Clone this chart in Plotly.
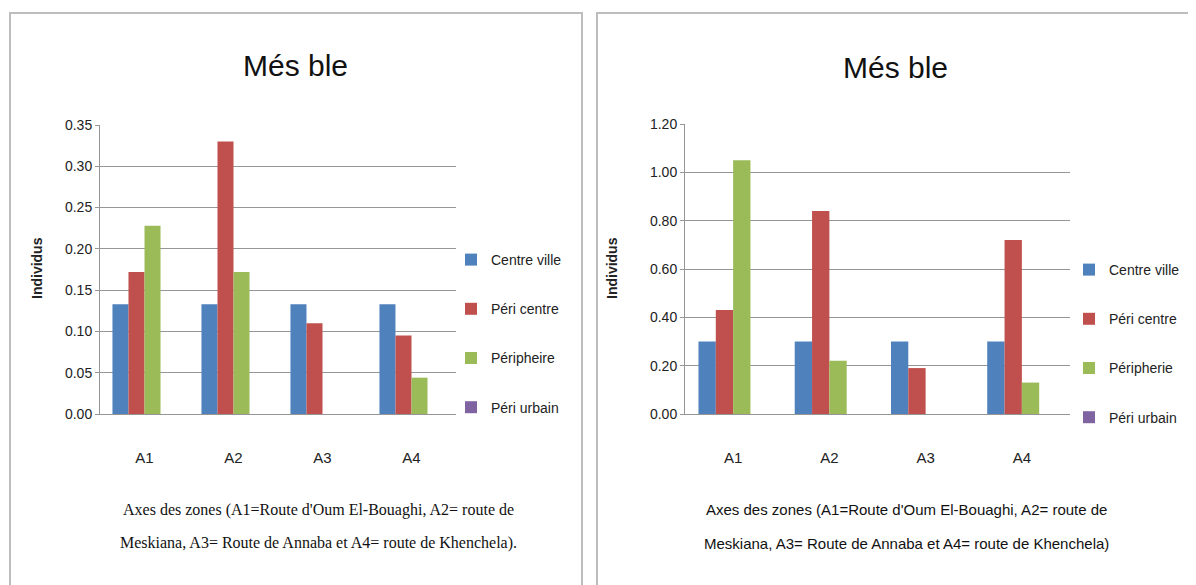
import plotly.graph_objects as go

categories = ["A1", "A2", "A3", "A4"]
series_names = ["Centre ville", "Péri centre", "Péripheire", "Péri urbain"]
series_names_right = ["Centre ville", "Péri centre", "Péripherie", "Péri urbain"]
colors = ["#4F81BD", "#C0504D", "#9BBB59", "#8064A2"]

left_centre_ville = [0.133, 0.133, 0.133, 0.133]
left_peri_centre = [0.172, 0.330, 0.110, 0.095]
left_peripherie = [0.228, 0.172, 0.0, 0.044]
left_peri_urbain = [0.0, 0.0, 0.0, 0.0]

right_centre_ville = [0.30, 0.30, 0.30, 0.30]
right_peri_centre = [0.43, 0.84, 0.19, 0.72]
right_peripherie = [1.05, 0.22, 0.0, 0.13]
right_peri_urbain = [0.0, 0.0, 0.0, 0.0]

left_series = [left_centre_ville, left_peri_centre, left_peripherie, left_peri_urbain]
right_series = [right_centre_ville, right_peri_centre, right_peripherie, right_peri_urbain]

title_text = "Més ble"
ytitle = "Individus"
xtitle_left_lines = ["Axes des zones (A1=Route d'Oum El-Bouaghi, A2= route de",
                     "Meskiana, A3= Route de Annaba et A4= route de Khenchela)."]
xtitle_right_lines = ["Axes des zones (A1=Route d'Oum El-Bouaghi, A2= route de",
                      "Meskiana, A3= Route de Annaba et A4= route de Khenchela)"]

W, H = 1196, 585
OFF = 8  # default page body margin
sans = "Liberation Sans, Arial, sans-serif"

fig = go.Figure()
for i, (name, vals) in enumerate(zip(series_names, left_series)):
    fig.add_trace(go.Bar(x=categories, y=vals, name=name, marker_color=colors[i],
                         marker_line_width=0, xaxis="x", yaxis="y",
                         legend="legend", legendgroup="l%d" % i))
for i, (name, vals) in enumerate(zip(series_names_right, right_series)):
    fig.add_trace(go.Bar(x=categories, y=vals, name=name, marker_color=colors[i],
                         marker_line_width=0, xaxis="x2", yaxis="y2",
                         legend="legend2", legendgroup="r%d" % i))

def px(v):
    return (v - OFF) / W

def py(v):
    return 1 - (v - OFF) / H

grid = "#969696"
tickfont = dict(family=sans, size=14, color="#222")

common_x = dict(showgrid=False, showline=True, linecolor=grid, linewidth=1,
                ticks="", tickfont=dict(family=sans, size=15, color="#222"),
                ticklabelstandoff=30, fixedrange=True, automargin=False)
common_y = dict(showgrid=True, gridcolor=grid, gridwidth=1, showline=True,
                linecolor=grid, linewidth=1, ticks="outside", ticklen=4,
                tickcolor=grid, tickfont=tickfont, tickformat=".2f",
                zeroline=False, fixedrange=True, automargin=False)

fig.update_layout(
    width=W, height=H,
    margin=dict(l=0, r=0, t=0, b=0, autoexpand=False),
    paper_bgcolor="white", plot_bgcolor="white",
    barmode="group", bargap=0.28, bargroupgap=0,
    xaxis=dict(domain=[px(100), px(456)], anchor="y", **common_x),
    yaxis=dict(domain=[py(414), py(125)], anchor="x", range=[0, 0.35], dtick=0.05, **common_y),
    xaxis2=dict(domain=[px(685), px(1070)], anchor="y2", **common_x),
    yaxis2=dict(domain=[py(414), py(124)], anchor="x2", range=[0, 1.2], dtick=0.2, **common_y),
    legend=dict(x=px(451), y=py(244), xanchor="left", yanchor="top",
                font=dict(family=sans, size=14, color="#222"),
                tracegroupgap=28, bgcolor="rgba(0,0,0,0)"),
    legend2=dict(x=px(1069), y=py(254), xanchor="left", yanchor="top",
                 font=dict(family=sans, size=14, color="#222"),
                 tracegroupgap=28, bgcolor="rgba(0,0,0,0)"),
    showlegend=True,
)

# panel borders
for x0, x1 in [(10, 582), (597, 1196)]:
    fig.add_shape(type="rect", xref="paper", yref="paper",
                  x0=px(x0), x1=px(x1), y0=py(586), y1=py(13),
                  line=dict(color="#BDBDBD", width=2), fillcolor="rgba(0,0,0,0)", layer="below")

# titles
for cx, cy in [(295, 66), (895, 68)]:
    fig.add_annotation(text=title_text, x=px(cx), y=py(cy), xref="paper", yref="paper",
                       showarrow=False, xanchor="center", yanchor="middle",
                       font=dict(family=sans, size=30, color="#111"))

# y titles
for cx in [37, 612]:
    fig.add_annotation(text="<b>" + ytitle + "</b>", x=px(cx), y=py(268), xref="paper", yref="paper",
                       showarrow=False, textangle=-90, xanchor="center", yanchor="middle",
                       font=dict(family=sans, size=14, color="#222"))

# x titles (one annotation per line for the wide line spacing)
for k, line in enumerate(xtitle_left_lines):
    fig.add_annotation(text=line, x=px(318), y=py(510 + 33 * k), xref="paper", yref="paper",
                       showarrow=False, xanchor="center", yanchor="middle",
                       font=dict(family="Liberation Serif, Times New Roman, serif", size=16, color="#111"))
for k, line in enumerate(xtitle_right_lines):
    fig.add_annotation(text=line, x=px(906), y=py(510 + 33 * k), xref="paper", yref="paper",
                       showarrow=False, xanchor="center", yanchor="middle",
                       font=dict(family=sans, size=15, color="#111"))

fig.write_html("out.html")
